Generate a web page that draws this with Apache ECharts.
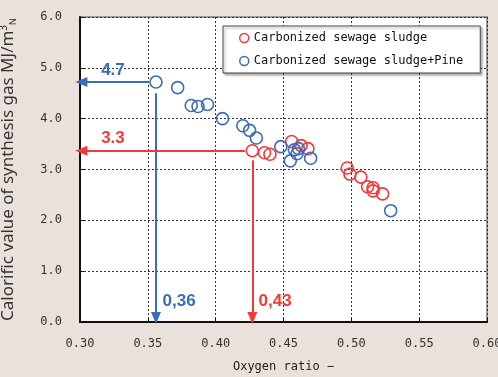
<!DOCTYPE html>
<html>
<head>
<meta charset="utf-8">
<script src="https://cdn.jsdelivr.net/npm/echarts@6/dist/echarts.min.js"></script>
<style>
  html, body { margin: 0; padding: 0; background: #e9e1da; }
  #chart { width: 498px; height: 377px; }
</style>
</head>
<body>
<div id="chart"></div>
<script>
// oxygen ratio / calorific value pairs
const sludgeX = [0.427, 0.436, 0.440, 0.456, 0.463, 0.468, 0.497, 0.499, 0.507, 0.512, 0.516, 0.516, 0.523];
const sludgeY = [3.37, 3.33, 3.30, 3.55, 3.47, 3.41, 3.03, 2.91, 2.85, 2.66, 2.64, 2.58, 2.52];
const pineX = [0.356, 0.372, 0.382, 0.387, 0.394, 0.405, 0.420, 0.425, 0.430, 0.448, 0.458, 0.461, 0.460, 0.455, 0.470, 0.529];
const pineY = [4.72, 4.61, 4.26, 4.24, 4.28, 4.00, 3.86, 3.77, 3.62, 3.45, 3.39, 3.41, 3.31, 3.17, 3.22, 2.19];

const xTicks = [0.30, 0.35, 0.40, 0.45, 0.50, 0.55, 0.60];
const yTicks = [0, 1, 2, 3, 4, 5, 6];

// callouts: anchor point, arrow stops, label text and label place
const calloutColors = ['#3a6cb8', '#f23a3a'];
const calloutAnchor = [[0.356, 4.72], [0.427, 3.37]];
const calloutHStart = [0.3505, 0.4215];
const calloutVStart = [4.5, 3.18];
const calloutTipX = 0.301;
const calloutTipY = 0.08;
const calloutYText = ['4.7', '3.3'];
const calloutXText = ['0,36', '0,43'];
const calloutYTextPos = [[0.3243, 4.96], [0.3243, 3.62]];
const calloutXTextPos = [[0.373, 0.41], [0.4438, 0.41]];

const RED = '#f23a3a';
const BLUE = '#3a6cb8';
const MONO = '"DejaVu Sans Mono", monospace';
const SANS = '"Noto Sans", sans-serif';

const chart = echarts.init(document.getElementById('chart'), null, { renderer: 'canvas' });

function zip(xs, ys) {
  return xs.map((x, i) => [x, ys[i]]);
}

function calloutLines(i) {
  const [ax, ay] = calloutAnchor[i];
  return [
    [{ coord: [calloutHStart[i], ay] }, { coord: [calloutTipX, ay] }],
    [{ coord: [ax, calloutVStart[i]] }, { coord: [ax, calloutTipY] }],
  ];
}

function calloutLabels(i) {
  const style = { show: true, color: calloutColors[i], fontFamily: 'Liberation Sans, Arial, sans-serif', fontWeight: 'bold', fontSize: 17 };
  return [
    { value: calloutYTextPos[i], label: Object.assign({ formatter: calloutYText[i] }, style) },
    { value: calloutXTextPos[i], label: Object.assign({ formatter: calloutXText[i] }, style) },
  ];
}

function calloutSeries(i) {
  return {
    type: 'scatter',
    silent: true,
    symbolSize: 0,
    itemStyle: { opacity: 1 },
    data: calloutLabels(i),
    label: { position: 'inside' },
    markLine: {
      silent: true,
      symbol: ['none', 'triangle'],
      symbolSize: [10, 12],
      label: { show: false },
      lineStyle: { color: calloutColors[i], width: 2, type: 'solid', opacity: 1 },
      data: calloutLines(i),
    },
    z: 1,
  };
}

const option = {
  backgroundColor: '#e9e1da',
  animation: false,
  grid: {
    left: 80, right: 11, top: 17, bottom: 55,
    outerBoundsMode: 'none',
    containLabel: false,
    show: true, backgroundColor: '#ffffff', borderColor: '#9a9a9a', borderWidth: 2,
  },
  legend: {
    orient: 'vertical',
    left: 223, top: 26,
    padding: [6, 17, 6, 16],
    itemGap: 11,
    itemWidth: 9, itemHeight: 9,
    backgroundColor: '#ffffff',
    borderColor: '#444', borderWidth: 1,
    shadowColor: 'rgba(0,0,0,0.3)', shadowBlur: 2, shadowOffsetX: 2, shadowOffsetY: 2,
    textStyle: { fontFamily: MONO, fontSize: 12, color: '#111' },
    data: [
      { name: 'Carbonized sewage sludge', icon: 'circle', itemStyle: { color: '#fff', borderColor: RED, borderWidth: 1.5, opacity: 1 } },
      { name: 'Carbonized sewage sludge+Pine', icon: 'circle', itemStyle: { color: '#fff', borderColor: BLUE, borderWidth: 1.5, opacity: 1 } },
    ],
  },
  xAxis: {
    type: 'value',
    min: xTicks[0], max: xTicks[xTicks.length - 1], interval: 0.05,
    name: 'Oxygen ratio \u2212',
    nameLocation: 'middle', nameGap: 39,
    nameTextStyle: { fontFamily: MONO, fontSize: 12, color: '#222' },
    axisLine: { onZero: false, lineStyle: { color: '#111', width: 2 } },
    axisTick: { inside: true, length: 4, lineStyle: { color: '#111' } },
    axisLabel: { margin: 16, fontFamily: MONO, fontSize: 12, color: '#333', formatter: v => v.toFixed(2) },
    splitLine: { lineStyle: { color: '#333', type: [2, 2], width: 1 } },
  },
  yAxis: {
    type: 'value',
    min: yTicks[0], max: yTicks[yTicks.length - 1], interval: 1,
    name: 'Calorific value of synthesis gas MJ/m{sup|3}{sub|N}',
    nameLocation: 'middle', nameGap: 62, nameRotate: 90,
    nameTextStyle: {
      fontFamily: SANS, fontSize: 17, color: '#333',
      rich: {
        sup: { fontFamily: SANS, fontSize: 10, color: '#333', verticalAlign: 'top', padding: [0, 0, 9, 0] },
        sub: { fontFamily: SANS, fontSize: 9, color: '#333', verticalAlign: 'bottom', padding: [7, 0, 0, 0] },
      },
    },
    axisLine: { show: true, lineStyle: { color: '#111', width: 2 } },
    axisTick: { show: true, inside: true, length: 4, lineStyle: { color: '#111' } },
    axisLabel: { margin: 18, fontFamily: MONO, fontSize: 12, color: '#333', formatter: v => v.toFixed(1) },
    splitLine: { lineStyle: { color: '#333', type: [2, 2], width: 1 } },
  },
  series: [
    calloutSeries(0),
    calloutSeries(1),
    {
      name: 'Carbonized sewage sludge',
      type: 'scatter',
      symbol: 'circle',
      symbolSize: 12,
      itemStyle: { color: 'rgba(255,255,255,0)', borderColor: RED, borderWidth: 1.6, opacity: 1 },
      data: zip(sludgeX, sludgeY),
      z: 3,
    },
    {
      name: 'Carbonized sewage sludge+Pine',
      type: 'scatter',
      symbol: 'circle',
      symbolSize: 12,
      itemStyle: { color: 'rgba(255,255,255,0)', borderColor: BLUE, borderWidth: 1.6, opacity: 1 },
      data: zip(pineX, pineY),
      z: 3,
    },
  ],
};

chart.setOption(option);
</script>
</body>
</html>
